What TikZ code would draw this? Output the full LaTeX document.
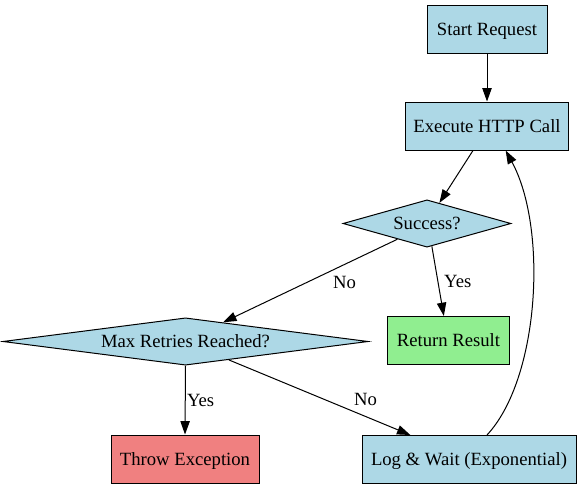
\documentclass[tikz,border=0pt]{standalone}
\usepackage{fontspec}
\setmainfont{Liberation Serif}
\usetikzlibrary{shapes.geometric, arrows.meta}

\definecolor{boxblue}{HTML}{ADD8E6}
\definecolor{boxgreen}{HTML}{90EE90}
\definecolor{boxred}{HTML}{F08080}

\begin{document}
\begin{tikzpicture}[x=0.75pt, y=-0.75pt,
	every node/.style={font=\fontsize{14}{16}\selectfont},
	stepbox/.style={rectangle, draw, line width=0.75pt, fill=boxblue, minimum height=36pt, inner sep=2pt, text height=12.5pt, text depth=3.5pt},
	check/.style={diamond, draw, line width=0.75pt, fill=boxblue, aspect=6, inner sep=1pt, minimum height=35.5pt},
	flow/.style={-{Triangle[length=10pt, width=7pt]}, line width=0.75pt},
	]

	\useasboundingbox (0,0) rectangle (581,489);

	\node[stepbox, minimum width=90pt] (start) at (487,29) {Start Request};
	\node[stepbox, minimum width=122pt] (exec) at (487,126) {Execute HTTP Call};
	\node[check, minimum width=126pt] (succ) at (427,223.5) {Success?};
	\node[check, minimum width=274pt] (maxr) at (185.5,341.5) {Max Retries Reached?};
	\node[stepbox, fill=boxgreen, minimum width=92pt] (ret) at (448.5,340.5) {Return Result};
	\node[stepbox, fill=boxred, minimum width=111pt] (throw) at (185,459) {Throw Exception};
	\node[stepbox, minimum width=160.5pt] (wait) at (469,459.5) {Log \& Wait (Exponential)};

	\draw[flow] (start) -- (exec);
	\draw[flow] ([xshift=-10.5pt]exec.south) -- (succ.59);
	\draw[flow] (succ.208) -- node[pos=0.52, anchor=west, xshift=16pt]{No} (maxr.27.5);
	\draw[flow] (succ.282) -- node[pos=0.51, anchor=west, xshift=1pt]{Yes} ([xshift=-3.5pt]ret.north);
	\draw[flow] (maxr.south) -- node[anchor=west, inner sep=1pt]{Yes} (throw.north);
	\draw[flow] (maxr.-23.5) -- node[pos=0.53, anchor=west, xshift=18pt]{No} ([xshift=-44pt]wait.north);
	\draw[flow] ([xshift=13.5pt]wait.north) .. controls +(53,-57) and +(42,77) .. ([xshift=14pt]exec.south);

\end{tikzpicture}
\end{document}
